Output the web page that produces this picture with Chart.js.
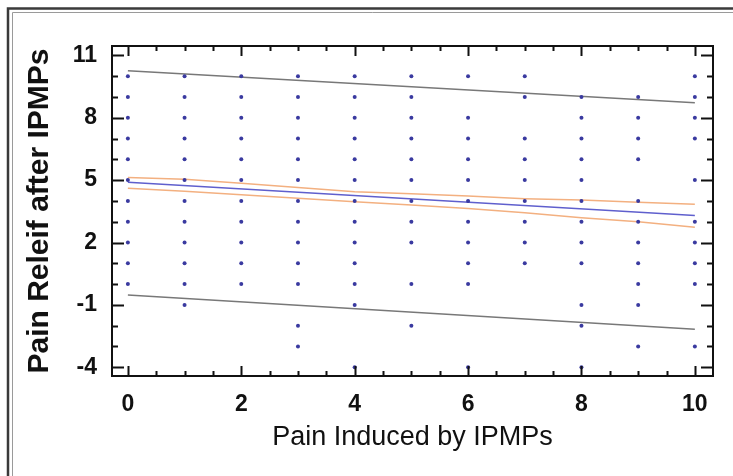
<!DOCTYPE html>
<html>
<head>
<meta charset="utf-8">
<script src="https://cdn.jsdelivr.net/npm/chart.js@4.4.0/dist/chart.umd.min.js"></script>
<style>
  html, body { margin: 0; padding: 0; background: #fff; }
  canvas { display: block; }
</style>
</head>
<body>
<canvas id="chart" width="733" height="476"></canvas>
<script>
// Pain induced scores (x) and the relief scores seen at each of them (y)
const painInduced = [0, 1, 2, 3, 4, 5, 6, 7, 8, 9, 10];
const reliefObserved = [
    [10, 9, 8, 7, 6, 5, 4, 3, 2, 1, 0],
    [10, 9, 8, 7, 6, 5, 4, 3, 2, 1, 0, -1],
    [10, 9, 8, 7, 6, 5, 4, 3, 2, 1, 0],
    [10, 9, 8, 7, 6, 5, 4, 3, 2, 1, 0, -2, -3],
    [10, 9, 8, 7, 6, 5, 4, 3, 2, 1, 0, -1, -4],
    [10, 9, 8, 7, 6, 5, 4, 3, 2, 0, -2],
    [10, 8, 7, 6, 5, 4, 3, 2, 1, 0, -4],
    [10, 9, 7, 6, 5, 4, 3, 2, 1],
    [9, 8, 7, 6, 5, 4, 3, 2, 1, -1, -2, -4],
    [9, 8, 7, 6, 4, 3, 2, 1, 0, -1, -3],
    [10, 9, 8, 7, 5, 3, 2, 1, 0, -3]
];

// Fitted line and prediction limits (straight, read at both ends)
const fitX = [0, 10];
const fitLine = [4.9, 3.3];
const predUpper = [10.26, 8.72];
const predLower = [-0.52, -2.17];

// Confidence limits, read at each x
const confUpper = [5.13, 5.04, 4.85, 4.64, 4.44, 4.34, 4.24, 4.11, 4.04, 3.93, 3.84];
const confLower = [4.61, 4.46, 4.30, 4.13, 3.96, 3.80, 3.64, 3.43, 3.19, 3.00, 2.73];

// Tick labels
const xTicks = [0, 2, 4, 6, 8, 10];
const yTicks = [-4, -1, 2, 5, 8, 11];

const FONT = '"Liberation Sans", Arial, Helvetica, sans-serif';

// Build point lists
const points = [];
painInduced.forEach((x, i) => {
    reliefObserved[i].forEach(y => points.push({ x, y }));
});
const pairs = (xs, ys) => xs.map((x, i) => ({ x, y: ys[i] }));

function lineSet(data, color, width) {
    return {
        data,
        showLine: true,
        borderColor: color,
        borderWidth: width,
        pointRadius: 0,
        tension: 0,
        fill: false
    };
}

// Box, inward ticks and the outer figure frame
const framePlugin = {
    id: 'frame',
    afterDraw(chart) {
        const { ctx, chartArea: a, scales: { x, y } } = chart;
        ctx.save();

        // outer frame (top and left only)
        ctx.strokeStyle = '#3a3a3a';
        ctx.lineWidth = 2.5;
        ctx.beginPath();
        ctx.moveTo(8, 476);
        ctx.lineTo(8, 8.5);
        ctx.lineTo(733, 8.5);
        ctx.stroke();
        ctx.strokeStyle = '#9a9a9a';
        ctx.lineWidth = 1;
        ctx.beginPath();
        ctx.moveTo(12.5, 476);
        ctx.lineTo(12.5, 12.5);
        ctx.lineTo(733, 12.5);
        ctx.stroke();

        // plot box
        ctx.strokeStyle = '#111';
        ctx.lineWidth = 2;
        ctx.strokeRect(a.left, a.top, a.width, a.height);

        // x ticks every 0.5, long on labelled values
        ctx.lineWidth = 2;
        ctx.beginPath();
        for (let v = 0; v <= 10; v += 0.5) {
            const px = Math.round(x.getPixelForValue(v)) + 0.5;
            const len = xTicks.includes(v) ? 10 : 5;
            ctx.moveTo(px, a.bottom);
            ctx.lineTo(px, a.bottom - len);
            ctx.moveTo(px, a.top);
            ctx.lineTo(px, a.top + len);
        }
        // y ticks every 1, long on labelled values
        for (let v = -4; v <= 11; v++) {
            const py = Math.round(y.getPixelForValue(v)) + 0.5;
            const len = yTicks.includes(v) ? 12 : 6;
            ctx.moveTo(a.left, py);
            ctx.lineTo(a.left + len, py);
            ctx.moveTo(a.right, py);
            ctx.lineTo(a.right - len, py);
        }
        ctx.stroke();
        ctx.restore();
    }
};

new Chart(document.getElementById('chart'), {
    type: 'scatter',
    data: {
        datasets: [
            {
                data: points,
                pointRadius: 2,
                pointBorderWidth: 0,
                pointBackgroundColor: 'rgb(58, 58, 160)'
            },
            lineSet(pairs(fitX, predUpper), 'rgb(120, 120, 120)', 1.5),
            lineSet(pairs(fitX, predLower), 'rgb(120, 120, 120)', 1.5),
            lineSet(pairs(painInduced, confUpper), 'rgb(243, 176, 128)', 1.5),
            lineSet(pairs(painInduced, confLower), 'rgb(243, 176, 128)', 1.5),
            lineSet(pairs(fitX, fitLine), 'rgb(95, 95, 205)', 1.4)
        ]
    },
    options: {
        responsive: false,
        animation: false,
        layout: { padding: { left: 0, top: 46, right: 20, bottom: 0 } },
        plugins: {
            legend: { display: false },
            tooltip: { enabled: false }
        },
        scales: {
            x: {
                type: 'linear',
                min: -0.28,
                max: 10.32,
                grid: { display: false, drawTicks: false },
                border: { display: false },
                afterBuildTicks: s => { s.ticks = xTicks.map(v => ({ value: v })); },
                afterFit: s => { s.height = 100; },
                ticks: {
                    color: '#111',
                    padding: 15,
                    font: { family: FONT, size: 23, weight: 'bold' }
                },
                title: {
                    display: true,
                    text: 'Pain Induced by IPMPs',
                    color: '#111',
                    padding: { top: 0, bottom: 22 },
                    font: { family: FONT, size: 27 }
                }
            },
            y: {
                type: 'linear',
                min: -4.42,
                max: 11.45,
                grid: { display: false, drawTicks: false },
                border: { display: false },
                afterBuildTicks: s => { s.ticks = yTicks.map(v => ({ value: v })); },
                afterFit: s => { s.width = 112; },
                ticks: {
                    color: '#111',
                    padding: 15,
                    font: { family: FONT, size: 23, weight: 'bold' }
                },
                title: {
                    display: true,
                    text: 'Pain Releif after IPMPs',
                    color: '#111',
                    padding: { top: 22, bottom: 0 },
                    font: { family: FONT, size: 30, weight: 'bold' }
                }
            }
        }
    },
    plugins: [framePlugin]
});
</script>
</body>
</html>
